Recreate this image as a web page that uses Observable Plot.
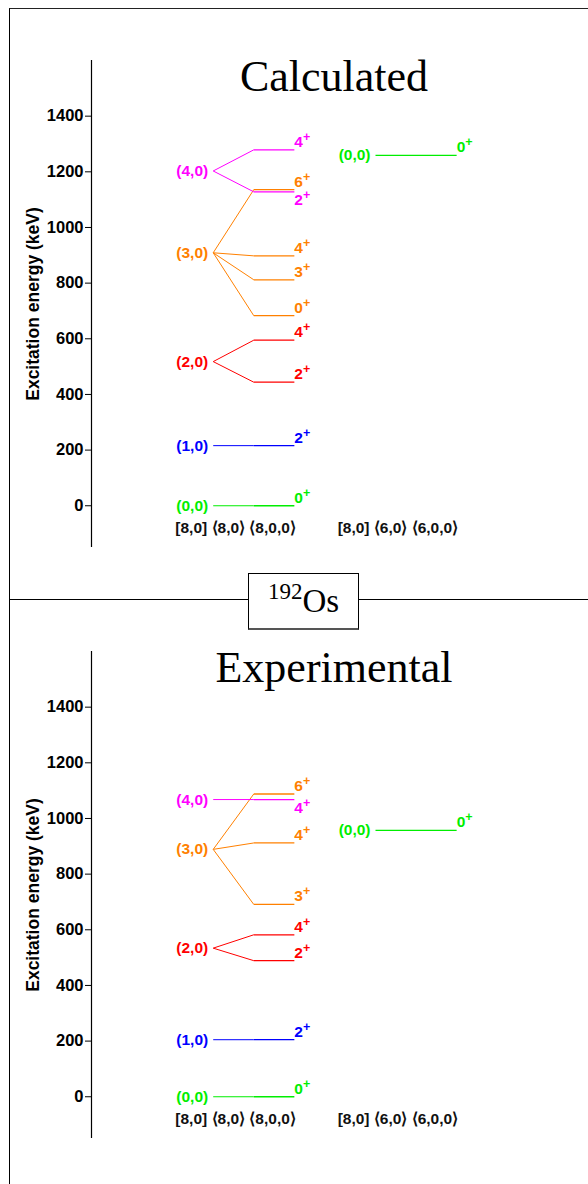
<!DOCTYPE html>
<html>
<head>
<meta charset="utf-8">
<script src="https://cdn.jsdelivr.net/npm/d3@7"></script>
<script src="https://cdn.jsdelivr.net/npm/@observablehq/plot@0.6"></script>
<style>
  body { margin: 0; background: #fff; }
  #page { position: relative; width: 588px; height: 1184px; overflow: hidden; font-family: "Liberation Sans", Arial, sans-serif; }
  .abs { position: absolute; }
  .title { position: absolute; left: 134px; width: 400px; text-align: center; font-family: "Liberation Serif", "Times New Roman", serif; font-size: 44px; line-height: 44px; color: #000; }
  .box { position: absolute; left: 248px; top: 573px; width: 109px; height: 54px; border: 1px solid #000; border-bottom: 2px solid #555; background: #fff; text-align: center; font-family: "Liberation Serif", "Times New Roman", serif; line-height: 54px; font-size: 33px; z-index: 5; }
  .box sup { font-size: 23px; position: relative; top: -1px; vertical-align: 12px; line-height: 0; }
</style>
</head>
<body>
<div id="page">
  <div class="abs" style="left:9px;top:8px;right:-2px;bottom:-2px;border-left:1px solid #000;border-top:1px solid #222;"></div>
  <div class="abs" style="left:9px;top:599px;right:0;border-top:1px solid #000;"></div>
  <div id="top" class="abs" style="left:0;top:0;"></div>
  <div id="bot" class="abs" style="left:0;top:591px;"></div>
  <div class="title" style="top:55px;">Calculated</div>
  <div class="title" style="top:646px;">Experimental</div>
  <div class="box"><sup>192</sup>Os</div>
</div>
<script>
// ---- data ----
const bands = ["(0,0)", "(1,0)", "(2,0)", "(3,0)", "(4,0)"];
const bandColors = ["#00ee00", "#0000ff", "#ff0000", "#ff8000", "#ff00ff"];
const yTicks = [0, 200, 400, 600, 800, 1000, 1200, 1400];
const columnLabels = ["[8,0] \u27E88,0\u27E9 \u27E88,0,0\u27E9", "[8,0] \u27E86,0\u27E9 \u27E86,0,0\u27E9"];
const yLabel = "Excitation energy (keV)";

// Calculated, [8,0]<8,0><8,0,0> column
const calcHeadE = [0, 216, 518, 909, 1203];
const calcBand  = [0, 1, 2, 2, 3, 3, 3, 3, 4, 4];
const calcSpin  = [0, 2, 2, 4, 0, 3, 4, 6, 2, 4];
const calcE     = [0, 216, 444, 595, 683, 812, 898, 1136, 1128, 1279];
// Calculated, [8,0]<6,0><6,0,0> column
const calc2Band = [0];
const calc2Spin = [0];
const calc2E    = [1259];

// Experimental
const expHeadE = [0, 205, 534, 889, 1068];
const expBand  = [0, 1, 2, 2, 3, 3, 3, 4];
const expSpin  = [0, 2, 2, 4, 3, 4, 6, 4];
const expE     = [0, 205, 489, 582, 691, 912, 1088, 1068];
const exp2Band = [0];
const exp2Spin = [0];
const exp2E    = [957];

// ---- layout (x units: band head 0, fan end 1, level end 2; second column 4..6) ----
const xDomain = [-3, 9.25];
const yDomain = [-150, 1600];

function panel(headE, band, spin, E, band2, spin2, E2) {
  const levels = band.map((b, i) => ({band: b, spin: spin[i], E: E[i], head: headE[b], xEnd: 2}));
  const levels2 = band2.map((b, i) => ({band: b, spin: spin2[i], E: E2[i], xEnd: 6}));
  const all = levels.concat(levels2);
  // a label goes below its line when another level of the same column sits just above it
  all.forEach(d => {
    d.below = all.some(o => o !== d && o.xEnd === d.xEnd && o.E > d.E && o.E - d.E < 40);
  });
  const heads = headE.map((e, i) => ({band: i, E: e, x: 0}))
    .concat(levels2.map(d => ({band: d.band, E: d.E, x: 4})));
  const col = d => bandColors[d.band];
  const above = all.filter(d => !d.below);
  const below = all.filter(d => d.below);
  const txt = {fontWeight: "bold", fontSize: 15.5, textAnchor: "start", fill: col};
  const plus = {fontWeight: "bold", fontSize: 12.5, textAnchor: "start", fill: col, text: () => "+", dx: 8.6};

  return Plot.plot({
    width: 588,
    height: 590,
    marginLeft: 91,
    marginRight: 0,
    marginTop: 60,
    marginBottom: 43,
    x: {domain: xDomain, axis: null},
    y: {domain: yDomain, axis: null},
    color: {type: "identity"},
    style: {fontFamily: "Liberation Sans, Arial, sans-serif", background: "transparent", overflow: "visible", color: "#000"},
    marks: [
      Plot.ruleX([xDomain[0]], {stroke: "#000", strokeWidth: 1.2}),
      Plot.axisY(yTicks, {tickSize: 6, tickPadding: 2, tickFormat: d => String(d), fontSize: 16.5, fontWeight: "bold", stroke: "#000", label: null}),
      Plot.text([yLabel], {frameAnchor: "left", textAnchor: "middle", rotate: -90, dx: -58.5, fontSize: 17.5, fontWeight: "bold", fill: "#000"}),
      // fans from band heads
      Plot.link(levels, {x1: 0, x2: 1, y1: "head", y2: "E", stroke: col, strokeWidth: 1}),
      // level lines
      Plot.link(levels, {x1: 1, x2: 2, y1: "E", y2: "E", stroke: col, strokeWidth: 1.3}),
      Plot.link(levels2, {x1: 4, x2: 6, y1: "E", y2: "E", stroke: col, strokeWidth: 1.3}),
      // band labels
      Plot.text(heads, {x: "x", y: "E", text: d => bands[d.band], textAnchor: "end", dx: -5, fill: col, fontWeight: "bold", fontSize: 15.5}),
      // spin labels
      Plot.text(above, {...txt, x: "xEnd", y: "E", text: d => String(d.spin), dy: -8}),
      Plot.text(above, {...plus, x: "xEnd", y: "E", dy: -13}),
      Plot.text(below, {...txt, x: "xEnd", y: "E", text: d => String(d.spin), dy: 8}),
      Plot.text(below, {...plus, x: "xEnd", y: "E", dy: 3.5}),
      // column labels
      Plot.text(columnLabels, {x: [2, 6], frameAnchor: "bottom", dy: -14.5, dx: 1.5, textAnchor: "end", fontWeight: "bold", fontSize: 15.5, fill: "#111"})
    ]
  });
}

document.getElementById("top").append(panel(calcHeadE, calcBand, calcSpin, calcE, calc2Band, calc2Spin, calc2E));
document.getElementById("bot").append(panel(expHeadE, expBand, expSpin, expE, exp2Band, exp2Spin, exp2E));
</script>
</body>
</html>
